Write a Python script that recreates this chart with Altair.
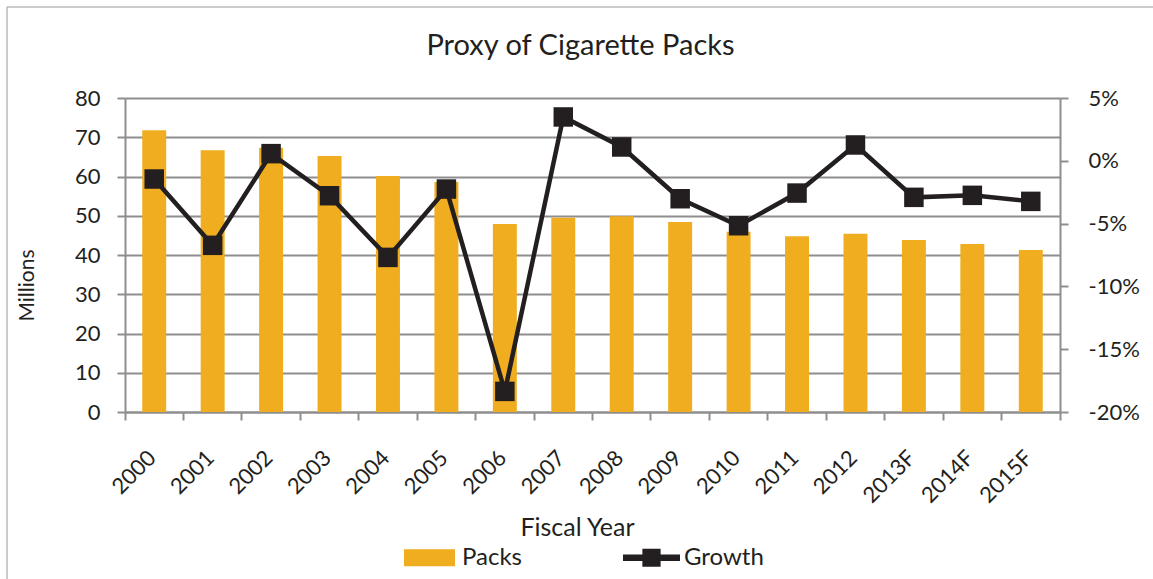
import altair as alt
import pandas as pd

years = ["2000", "2001", "2002", "2003", "2004", "2005", "2006", "2007",
         "2008", "2009", "2010", "2011", "2012", "2013F", "2014F", "2015F"]
packs = [71.8, 66.7, 67.3, 65.2, 60.1, 58.6, 47.9, 49.5,
         49.9, 48.4, 45.9, 44.8, 45.4, 43.8, 42.8, 41.3]
growth_pct = [-1.45, -6.73, 0.57, -2.78, -7.69, -2.25, -18.36, 3.49,
              1.10, -3.02, -5.17, -2.57, 1.26, -2.91, -2.75, -3.23]
left_ticks = [0, 10, 20, 30, 40, 50, 60, 70, 80]
right_ticks = [-0.20, -0.15, -0.10, -0.05, 0.0, 0.05]

ORANGE = "#EFAD1F"
DARK = "#231F20"
GRID = "#8E8E8E"
FONT = "Lato"

df = pd.DataFrame({
    "year": years,
    "packs": packs,
    "growth": [g / 100 for g in growth_pct],
    "s_packs": ["Packs"] * len(years),
})

color_scale = alt.Scale(domain=["Packs", "Growth"], range=[ORANGE, DARK])

sym_shape = ("datum.value === 'Growth' ? "
             "'M-1,-0.11H-0.32V-0.32H0.32V-0.11H1V0.11H0.32V0.32H-0.32V0.11H-1Z' : "
             "'M-0.895,-0.3H0.895V0.3H-0.895Z'")
legend = alt.Legend(
    title=None, orient="none", legendX=276, legendY=431, direction="horizontal",
    padding=0, columnPadding=100, labelOffset=4, symbolSize=3249,
    symbolType={"expr": sym_shape}, symbolStrokeWidth=0, symbolOpacity=1,
    labelFont=FONT, labelFontSize=24, labelColor=DARK, labelLimit=200,
)

x_scale = alt.Scale(paddingInner=0, paddingOuter=0)
x_enc = alt.X(
    "year:N", sort=years, scale=x_scale,
    axis=alt.Axis(
        title="Fiscal Year", titleFont=FONT, titleFontSize=25, titleFontWeight="normal",
        titleColor=DARK, titleX=452, titleY=123, titleBaseline="alphabetic",
        titleAnchor="start", titleAlign="center",
        labelAngle=-45, labelAlign="right", labelBaseline="middle",
        labelFont=FONT, labelFontSize=22, labelColor=DARK, labelPadding=34,
        labelOffset=-2, bandPosition=1, tickExtra=True,
        tickSize=8, tickColor=GRID, tickWidth=2, domainColor=GRID, domainWidth=2,
        grid=False,
    ),
)

bars = alt.Chart(df).mark_bar(color=ORANGE, width=alt.RelativeBandSize(0.41)).encode(
    x=x_enc,
    y=alt.Y("packs:Q", scale=alt.Scale(domain=[0, 80], nice=False),
            axis=alt.Axis(
                title="Millions", titleFont=FONT, titleFontSize=21, titleFontWeight="normal",
                titleColor=DARK, titleAngle=-90, titleX=-92, titleY=187,
                titleBaseline="alphabetic", titleAlign="center",
                values=left_ticks, labelFont=FONT, labelFontSize=22, labelColor=DARK,
                labelPadding=17, tickSize=8, tickColor=GRID, tickWidth=2,
                domainColor=GRID, domainWidth=2, grid=True, gridColor=GRID,
                gridWidth=2)),
    color=alt.Color("s_packs:N", scale=color_scale, legend=legend),
)

y_right = alt.Y("growth:Q", scale=alt.Scale(domain=[-0.20, 0.05], nice=False),
                axis=alt.Axis(
                    orient="right", title=None, values=right_ticks,
                    labelExpr="round(datum.value * 100) + '%'",
                    labelFont=FONT, labelFontSize=22, labelColor=DARK, labelPadding=20,
                    tickSize=8, tickColor=GRID, tickWidth=2,
                    domainColor=GRID, domainWidth=2, grid=False))

line = alt.Chart(df).mark_line(strokeWidth=4.5, color=DARK).encode(
    x=alt.X("year:N", sort=years, scale=x_scale),
    y=y_right,
)
points = alt.Chart(df).mark_point(shape="square", filled=True, size=380,
                                  opacity=1, color=DARK).encode(
    x=alt.X("year:N", sort=years, scale=x_scale),
    y=alt.Y("growth:Q", scale=alt.Scale(domain=[-0.20, 0.05], nice=False), axis=None),
)

frame_df = pd.DataFrame({"k": [0]})
top_border = alt.Chart(frame_df).mark_rule(color="#9A9A9A", strokeWidth=1).encode(
    x=alt.value(-118), x2=alt.value(1028), y=alt.value(-91))
left_border = alt.Chart(frame_df).mark_rule(color="#9A9A9A", strokeWidth=1).encode(
    x=alt.value(-118), y=alt.value(-91), y2=alt.value(481))

chart = alt.layer(bars, line, points, top_border, left_border).resolve_scale(
    y="independent"
).properties(
    width=935, height=314,
    autosize=alt.AutoSizeParams(type="none"),
    padding={"left": 125, "top": 98, "right": 93, "bottom": 167},
    title=alt.TitleParams("Proxy of Cigarette Packs", font=FONT, fontSize=29,
                          fontWeight="normal", color=DARK, anchor="middle",
                          frame="group", baseline="alphabetic", offset=-77.5, dx=-12),
).configure_view(stroke=None).configure(background="white")

chart.save("out.html", embed_options={"renderer": "svg", "actions": False})
